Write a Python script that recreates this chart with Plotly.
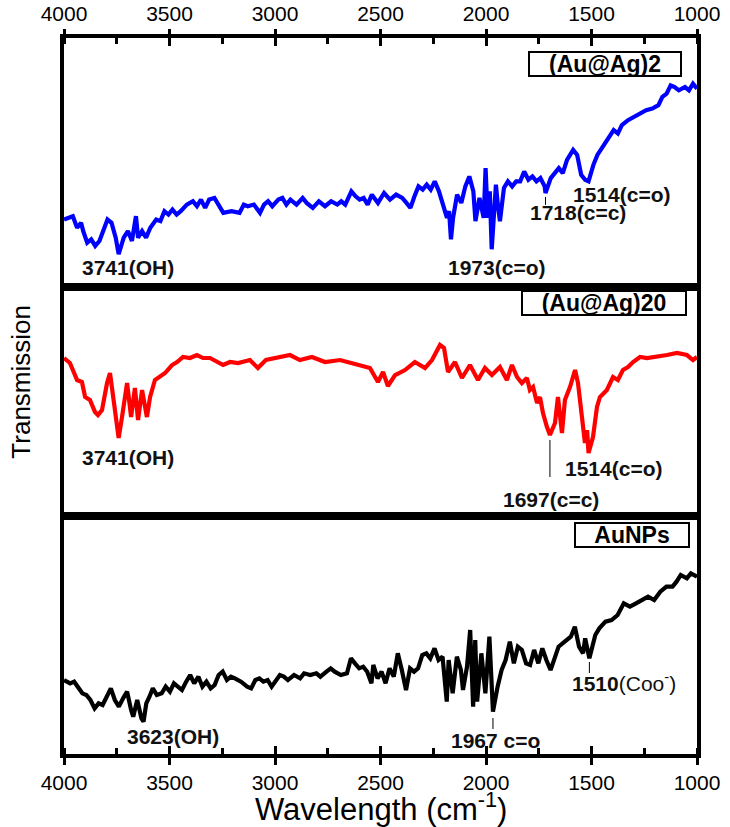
import plotly.graph_objects as go

# ---------------- data (wavenumber cm-1, transmission a.u.) ----------------
wn_aunag2 = [4000, 3958, 3938, 3919, 3909, 3890, 3871, 3852, 3832, 3813, 3794, 3775, 3755, 3741, 3717, 3697,
             3678, 3659, 3649, 3630, 3611, 3591, 3563, 3543, 3524, 3505, 3486, 3466, 3447, 3418, 3389, 3370,
             3351, 3331, 3312, 3287, 3264, 3245, 3206, 3168, 3148, 3129, 3100, 3071, 3052, 3033, 3013, 2984,
             2965, 2946, 2927, 2898, 2869, 2850, 2821, 2792, 2763, 2734, 2705, 2686, 2667, 2638, 2618, 2599,
             2580, 2561, 2541, 2512, 2483, 2455, 2426, 2397, 2377, 2358, 2339, 2320, 2300, 2281, 2262, 2243,
             2223, 2204, 2185, 2175, 2166, 2156, 2137, 2117, 2098, 2079, 2060, 2050, 2031, 2011, 2002, 1992,
             1982, 1973, 1963, 1953, 1944, 1934, 1915, 1896, 1876, 1857, 1838, 1819, 1799, 1780, 1761, 1742,
             1722, 1718, 1693, 1674, 1655, 1636, 1616, 1587, 1568, 1549, 1530, 1514, 1491, 1472, 1443, 1414,
             1395, 1375, 1356, 1327, 1298, 1269, 1241, 1212, 1183, 1164, 1144, 1125, 1106, 1086, 1057, 1038,
             1019, 1000]
t_aunag2 = [21.5, 22.5, 19, 20.5, 18, 14.5, 15.5, 13.5, 15, 18, 21.5, 20.5, 16, 11, 16, 18,
            15, 22.5, 16, 18, 16, 19, 21.5, 21, 24, 23, 24.5, 23, 24, 26, 27, 25.5,
            27.5, 25, 27.5, 28, 25.5, 23.5, 24, 23.5, 26, 25.5, 26, 23.5, 26, 27, 25.5, 27.5,
            28, 26, 27.5, 26, 28, 26.5, 25, 27, 25.5, 27, 26, 27, 26, 30, 28.5, 27.5,
            28, 26, 29, 26.5, 29.5, 27.5, 29, 28, 26.5, 25, 28.5, 31.5, 30.5, 32, 30.5, 33,
            30, 25.5, 22, 24, 15.5, 22, 29, 26.5, 31.5, 34.5, 30, 21, 28, 22, 37, 22,
            30, 12.5, 23, 32, 26, 21, 31, 33, 31.5, 33, 33, 36, 33.5, 34.5, 33, 34,
            31.5, 29.5, 34, 35.5, 37, 35.5, 39.5, 42.5, 41, 35, 33.5, 33, 38, 41, 44, 47,
            48.5, 47.5, 50, 51.5, 52.5, 53.5, 54.5, 55, 56, 58.5, 59.5, 62, 61.5, 60.5, 61.5, 60.5,
            62.5, 61]

wn_aunag20 = [4000, 3972, 3938, 3915, 3900, 3877, 3853, 3839, 3820, 3796, 3782, 3768, 3741, 3725, 3701, 3682,
              3664, 3649, 3630, 3607, 3592, 3569, 3545, 3521, 3488, 3464, 3436, 3403, 3370, 3341, 3308, 3275,
              3246, 3213, 3175, 3119, 3081, 3043, 2976, 2929, 2882, 2825, 2763, 2692, 2621, 2550, 2512, 2488,
              2465, 2431, 2384, 2337, 2289, 2256, 2218, 2199, 2180, 2147, 2114, 2076, 2038, 2005, 1972, 1934,
              1901, 1877, 1853, 1830, 1806, 1792, 1777, 1758, 1744, 1730, 1711, 1697, 1673, 1659, 1640, 1626,
              1602, 1578, 1564, 1545, 1531, 1521, 1514, 1493, 1474, 1460, 1427, 1398, 1375, 1351, 1327, 1303,
              1270, 1237, 1190, 1142, 1095, 1048, 1019, 1000]
t_aunag20 = [81, 78.5, 70, 69, 61.5, 60, 54, 52.5, 55, 68.5, 73.5, 63.5, 41, 51.5, 68.5, 51.5,
             66, 50, 65, 51.5, 61.5, 70, 71.5, 73.5, 77.5, 79, 81.5, 81, 82.5, 81, 81, 79,
             77.5, 79, 78.5, 80, 76, 80, 81.5, 82.5, 80, 81.5, 79, 80, 78, 76, 69, 74,
             67, 72.5, 75, 79, 76, 80, 87.5, 86, 74, 79, 71, 77.5, 70, 76, 72.5, 76.5,
             70, 77.5, 71.5, 68.5, 71, 65, 66.5, 58.5, 61.5, 53.5, 46.5, 42.5, 48.5, 61.5, 43.5, 60,
             66.5, 75, 68.5, 51.5, 38.5, 45, 33.5, 41.5, 56.5, 61.5, 65, 71.5, 70, 75, 76.5, 79,
             81.5, 81, 81.5, 82.5, 83.5, 82.5, 80, 81.5]

wn_aunps = [4000, 3971, 3952, 3933, 3913, 3894, 3875, 3855, 3836, 3817, 3797, 3778, 3759, 3740, 3720, 3701,
            3682, 3672, 3653, 3633, 3623, 3610, 3595, 3579, 3560, 3537, 3518, 3498, 3479, 3460, 3441, 3421,
            3402, 3383, 3363, 3344, 3325, 3305, 3286, 3267, 3248, 3228, 3209, 3190, 3161, 3132, 3113, 3093,
            3074, 3055, 3035, 3016, 2997, 2977, 2958, 2939, 2910, 2881, 2862, 2833, 2804, 2785, 2756, 2736,
            2717, 2688, 2659, 2640, 2621, 2601, 2582, 2563, 2543, 2534, 2514, 2495, 2476, 2457, 2437, 2418,
            2399, 2379, 2360, 2341, 2322, 2302, 2283, 2264, 2244, 2225, 2206, 2186, 2177, 2158, 2138, 2119,
            2109, 2090, 2075, 2061, 2051, 2042, 2022, 2003, 1984, 1974, 1967, 1945, 1926, 1907, 1887, 1868,
            1849, 1830, 1810, 1791, 1772, 1752, 1733, 1714, 1694, 1675, 1656, 1627, 1598, 1579, 1559, 1540,
            1530, 1510, 1482, 1463, 1434, 1405, 1376, 1347, 1318, 1289, 1260, 1232, 1203, 1174, 1145, 1116,
            1097, 1077, 1048, 1029, 1000]
t_aunps = [28, 27, 27.5, 25.5, 24, 23.5, 22, 19.5, 21, 20.5, 23, 25.5, 22, 20, 22.5, 24.5,
           19, 17, 22, 16.5, 15.5, 21, 23, 25.5, 23.5, 24, 26, 24.5, 27, 26, 25, 27.5,
           29.5, 27, 29, 26, 27.5, 25.5, 26.5, 29.5, 30.5, 28, 29, 28.5, 27.5, 26, 25.5, 28,
           28.5, 27.5, 28, 26, 27.5, 29.5, 29, 28, 29.5, 28.5, 30, 29.5, 30, 29, 30.5, 31.5,
           30.5, 29.5, 30, 34.5, 33, 31.5, 32, 30.5, 27, 32.5, 28.5, 30.5, 27, 31.5, 29, 36,
           31, 25, 31.5, 30.5, 31.5, 35.5, 36, 34.5, 37.5, 34, 35, 21.5, 34, 24, 35, 31,
           25, 32, 43, 20, 40, 21.5, 36, 24, 41, 28, 18.5, 26, 31, 34, 39.5, 33,
           38, 37, 33, 32.5, 37, 33, 37.5, 34, 31, 34.5, 38, 39.5, 41, 44, 38, 36,
           40.5, 34.5, 41.5, 43.5, 45.5, 46, 47.5, 51, 50, 51, 52, 53, 52, 54.5, 56, 56,
           57.5, 59.5, 58.5, 60, 59]

assert len(wn_aunag2) == len(t_aunag2)
assert len(wn_aunag20) == len(t_aunag20)
assert len(wn_aunps) == len(t_aunps)

sample_names = ["(Au@Ag)2", "(Au@Ag)20", "AuNPs"]
x_ticks = [4000, 3500, 3000, 2500, 2000, 1500, 1000]

FONT = "Liberation Sans, Arial, sans-serif"
XR = [4000, 1000]
LW = 4.2

fig = go.Figure()
fig.add_trace(go.Scatter(x=wn_aunag2, y=t_aunag2, xaxis="x3", yaxis="y", mode="lines",
                         line=dict(color="#0000FF", width=LW), showlegend=False))
fig.add_trace(go.Scatter(x=wn_aunag20, y=t_aunag20, xaxis="x2", yaxis="y2", mode="lines",
                         line=dict(color="#FF0000", width=LW), showlegend=False))
fig.add_trace(go.Scatter(x=wn_aunps, y=t_aunps, xaxis="x", yaxis="y3", mode="lines",
                         line=dict(color="#000000", width=LW), showlegend=False))
# carriers for the tick-only overlay axes
for xa, ya in [("x4", "y"), ("x5", "y3"), ("x6", "y")]:
    fig.add_trace(go.Scatter(x=[2500], y=[None], xaxis=xa, yaxis=ya, mode="lines",
                             showlegend=False, hoverinfo="skip"))

frame = dict(showline=True, linecolor="black", linewidth=4, mirror=True,
             showgrid=False, zeroline=False, range=XR, automargin=False)
tickfont = dict(family=FONT, size=21, color="black")
tick_only = dict(range=XR, showline=False, showgrid=False, zeroline=False, automargin=False,
                 tickcolor="black", tickwidth=3, ticklen=8, tickvals=x_ticks)
minor = dict(dtick=250, tick0=1000, ticks="inside", ticklen=6, tickwidth=3, tickcolor="black")
yframe = dict(showline=True, linecolor="black", linewidth=4, mirror=True, ticks="",
              showticklabels=False, showgrid=False, zeroline=False, automargin=False)

fig.update_layout(
    width=730, height=827,
    margin=dict(l=64, r=33, t=38, b=73, autoexpand=False),
    paper_bgcolor="white", plot_bgcolor="white",
    xaxis=dict(**frame, anchor="y3", ticks="outside", ticklen=7, tickwidth=3, tickcolor="black",
               tickvals=x_ticks, tickfont=tickfont, minor=minor),
    xaxis2=dict(**frame, anchor="y2", ticks="", showticklabels=False),
    xaxis3=dict(**frame, anchor="y", ticks="", showticklabels=False),
    xaxis4=dict(**tick_only, overlaying="x3", anchor="y", side="top", ticks="outside",
                tickfont=tickfont, minor=minor),
    xaxis5=dict(**tick_only, overlaying="x", anchor="y3", side="bottom", ticks="inside",
                showticklabels=False),
    xaxis6=dict(**tick_only, overlaying="x3", anchor="y", side="top", ticks="inside",
                showticklabels=False),
    yaxis=dict(**yframe, domain=[0.6522, 1.0], range=[1.1, 76.3], anchor="x3"),
    yaxis2=dict(**yframe, domain=[0.3324, 0.6522], range=[2, 116.5], anchor="x2"),
    yaxis3=dict(**yframe, domain=[0.0, 0.3324], range=[5.8, 77.2], anchor="x"),
)

# axis titles
fig.add_annotation(text="Wavelength (cm<sup>-1</sup>)", xref="paper", yref="paper", x=0.5, y=-0.074,
                   xanchor="center", yanchor="middle", showarrow=False,
                   font=dict(family=FONT, size=31, color="black"))
fig.add_annotation(text="Transmission", xref="paper", yref="paper", x=-0.068, y=0.52,
                   xanchor="center", yanchor="middle", textangle=-90, showarrow=False,
                   font=dict(family=FONT, size=26, color="black"))

# sample boxes
boxes = [(sample_names[0], "x3", "y", 1436, 68.5, 150),
         (sample_names[1], "x2", "y2", 1441, 108.5, 162),
         (sample_names[2], "x", "y3", 1308, 71.5, 112)]
for txt, xr, yr, bx, by, w in boxes:
    fig.add_annotation(text="<b>" + txt + "</b>", xref=xr, yref=yr, x=bx, y=by, showarrow=False,
                       xanchor="center", yanchor="middle",
                       font=dict(family=FONT, size=23, color="black"), bordercolor="black",
                       borderwidth=2, borderpad=0, bgcolor="white", width=w, height=22)

# peak labels
peak_labels = [
    ("<b>3741(OH)</b>", "x3", "y", 3697, 6.9),
    ("<b>1973(c=o)</b>", "x3", "y", 1948, 6.9),
    ("<b>1718(c=c)</b>", "x3", "y", 1564, 23.5),
    ("<b>1514(c=o)</b>", "x3", "y", 1356, 28.9),
    ("<b>3741(OH)</b>", "x2", "y2", 3697, 31.5),
    ("<b>1697(c=c)</b>", "x2", "y2", 1692, 10.5),
    ("<b>1514(c=o)</b>", "x2", "y2", 1398, 26),
    ("<b>3623(OH)</b>", "x", "y3", 3483, 11.2),
    ("<b>1967 c=o</b>", "x", "y3", 1957, 10),
    ("<b>1510</b>(Coo<sup>-</sup>)", "x", "y3", 1346, 27.4),
]
for txt, xr, yr, px, py in peak_labels:
    fig.add_annotation(text=txt, xref=xr, yref=yr, x=px, y=py, showarrow=False,
                       xanchor="center", yanchor="middle",
                       font=dict(family=FONT, size=21, color="#111111"))

# leader lines
leaders = [("x3", "y", 1718, 28.3, 25.9),
           ("x2", "y2", 1697, 40, 21.5),
           ("x", "y3", 1967, 16.6, 13.3),
           ("x", "y3", 1510, 33.4, 30.1)]
for xr, yr, lx, y0, y1 in leaders:
    fig.add_shape(type="line", xref=xr, yref=yr, x0=lx, x1=lx, y0=y0, y1=y1,
                  line=dict(color="black", width=1))

fig.write_html("out.html")
